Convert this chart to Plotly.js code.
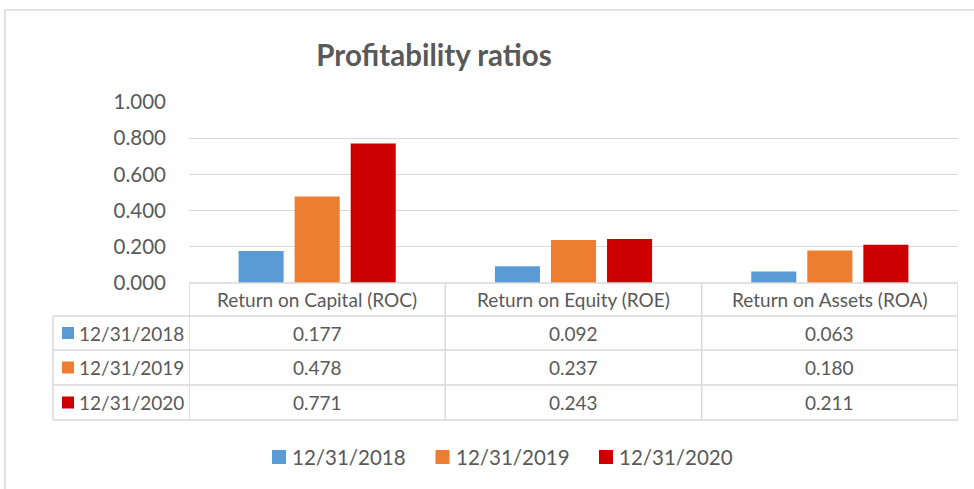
<!DOCTYPE html>
<html>
<head>
<meta charset="utf-8">
<script src="https://cdn.plot.ly/plotly-3.0.1.min.js"></script>
<style>
html,body{margin:0;padding:0;background:#fff;}
#chart{width:974px;height:489px;}
</style>
</head>
<body>
<div id="chart"></div>
<script>
// ---- data ----
var categories = ["Return on Capital (ROC)", "Return on Equity (ROE)", "Return on Assets (ROA)"];
var seriesNames = ["12/31/2018", "12/31/2019", "12/31/2020"];
var values2018 = [0.177, 0.092, 0.063];
var values2019 = [0.478, 0.237, 0.180];
var values2020 = [0.771, 0.243, 0.211];
var yTicks = [0, 0.2, 0.4, 0.6, 0.8, 1.0];

// ---- styling ----
var colors = ["#5B9BD5", "#ED7D31", "#CC0000"];
var textColor = "#595959";
var lineColor = "#D9D9D9";
var FONT = "Lato, 'Open Sans', sans-serif";
var allValues = [values2018, values2019, values2020];

var W = 974, H = 489;
var mL = 189, mR = 16, mT = 102, mB = 206;
var plotW = W - mL - mR, plotH = H - mT - mB;
function py(p) { return (H - mB - p) / plotH; }   // pixel y -> paper y
function px(p) { return (p - mL) / plotW; }       // pixel x -> paper x

var traces = allValues.map(function (vals, i) {
  return {
    type: "bar",
    x: categories,
    y: vals,
    name: seriesNames[i],
    marker: { color: colors[i] },
    hoverinfo: "skip",
    showlegend: false
  };
});

var rowEdges = [283, 316, 350, 385, 420];
var shapes = [];
var annotations = [];
var tableFont = { family: FONT, size: 19, color: textColor };

// outer chart border
shapes.push({ type: "rect", xref: "paper", yref: "paper",
  x0: px(5), x1: px(990), y0: py(500), y1: py(10),
  line: { color: lineColor, width: 1.5 }, layer: "below" });

// table horizontal lines
rowEdges.forEach(function (e, k) {
  shapes.push({ type: "line", xref: "paper", yref: "paper",
    x0: k === 0 ? 0 : px(53), x1: 1, y0: py(e), y1: py(e),
    line: { color: lineColor, width: 1.5 } });
});
// table vertical lines
shapes.push({ type: "line", xref: "paper", yref: "paper",
  x0: px(53), x1: px(53), y0: py(rowEdges[1]), y1: py(rowEdges[4]),
  line: { color: lineColor, width: 1.5 } });
for (var c = 0; c <= categories.length; c++) {
  shapes.push({ type: "line", xref: "x", yref: "paper",
    x0: c - 0.5, x1: c - 0.5, y0: py(rowEdges[0]), y1: py(rowEdges[4]),
    line: { color: lineColor, width: 1.5 } });
}

// header row: category names
categories.forEach(function (cat) {
  annotations.push({ xref: "x", yref: "paper", x: cat,
    y: py((rowEdges[0] + rowEdges[1]) / 2), text: cat, showarrow: false,
    xanchor: "center", yanchor: "middle", font: tableFont });
});

// rows: series label + values
seriesNames.forEach(function (name, r) {
  var yc = py((rowEdges[r + 1] + rowEdges[r + 2]) / 2);
  shapes.push({ type: "rect", xref: "paper", yref: "paper",
    x0: px(62), x1: px(74), y0: yc - 6 / plotH, y1: yc + 6 / plotH,
    fillcolor: colors[r], line: { width: 0 } });
  annotations.push({ xref: "paper", yref: "paper", x: px(77), y: yc,
    text: name, showarrow: false, xanchor: "left", yanchor: "middle", font: tableFont });
  allValues[r].forEach(function (v, ci) {
    annotations.push({ xref: "x", yref: "paper", x: categories[ci], y: yc,
      text: v.toFixed(3), showarrow: false, xanchor: "center", yanchor: "middle", font: tableFont });
  });
});

// bottom legend
var legendY = py(457), legendStart = 272, legendStep = 163.5;
seriesNames.forEach(function (name, i) {
  var x0 = legendStart + i * legendStep;
  shapes.push({ type: "rect", xref: "paper", yref: "paper",
    x0: px(x0), x1: px(x0 + 14), y0: legendY - 7 / plotH, y1: legendY + 7 / plotH,
    fillcolor: colors[i], line: { width: 0 } });
  annotations.push({ xref: "paper", yref: "paper", x: px(x0 + 18), y: legendY,
    text: name, showarrow: false, xanchor: "left", yanchor: "middle",
    font: { family: FONT, size: 20.5, color: textColor } });
});

var layout = {
  width: W, height: H,
  margin: { l: mL, r: mR, t: mT, b: mB, pad: 0 },
  paper_bgcolor: "#fff", plot_bgcolor: "#fff",
  title: { text: "<b>Profitability ratios</b>", font: { family: FONT, size: 29.5, color: textColor },
    x: 434 / W, xanchor: "center", y: 1 - 56 / H, yanchor: "middle" },
  barmode: "group",
  bargap: 0.344,
  bargroupgap: 0.196,
  showlegend: false,
  xaxis: { type: "category", showticklabels: false, showgrid: false, zeroline: false,
    showline: false, ticks: "", range: [-0.5, 2.5], fixedrange: true },
  yaxis: { range: [0, 1.0], tickvals: yTicks, tickformat: ".3f", showgrid: true,
    gridcolor: lineColor, gridwidth: 1.3, zeroline: false, showline: false, ticks: "",
    ticklabelstandoff: 22,
    tickfont: { family: FONT, size: 20.5, color: textColor }, fixedrange: true },
  shapes: shapes,
  annotations: annotations
};

Plotly.newPlot("chart", traces, layout, { displayModeBar: false, staticPlot: true });
</script>
</body>
</html>
